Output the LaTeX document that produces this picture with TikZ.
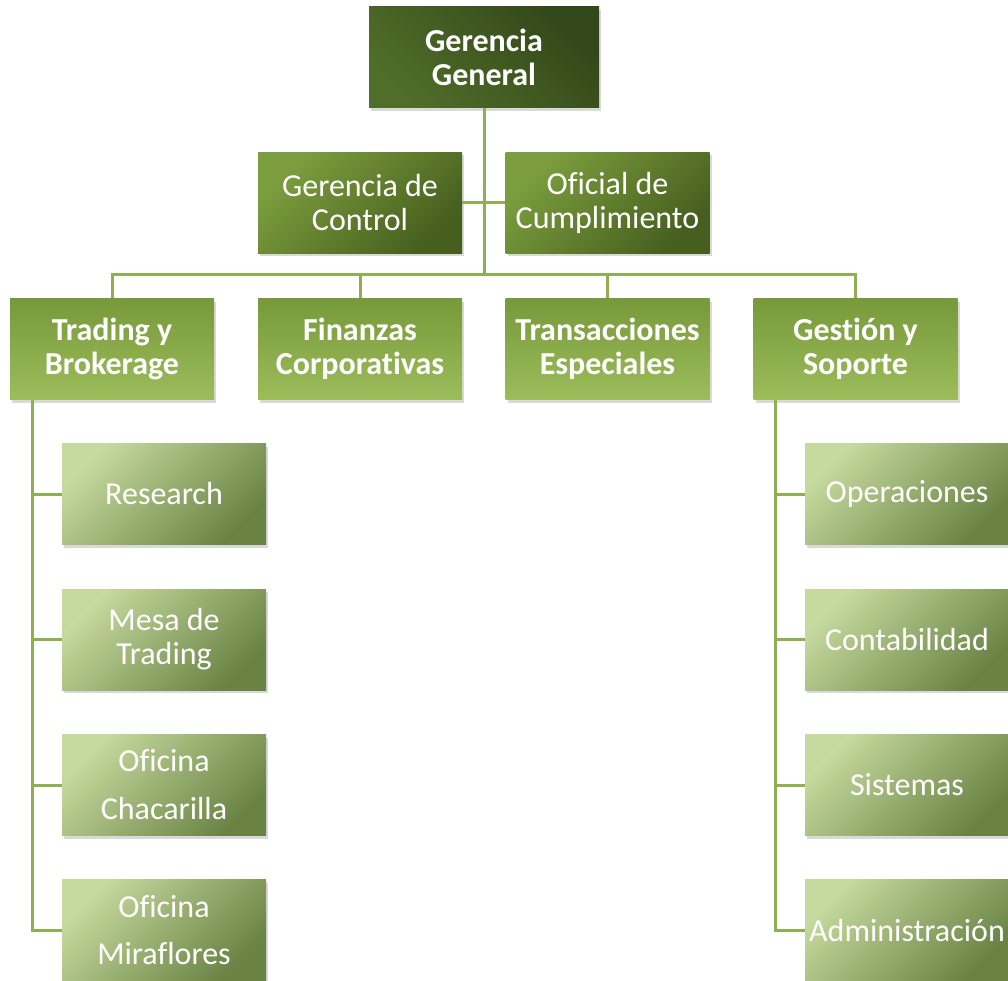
\documentclass[tikz,border=0pt]{standalone}
\usepackage{fontspec}
\setmainfont{Carlito}[Ligatures=CommonOff]
\usetikzlibrary{shadows}
\definecolor{ggdark}{HTML}{33481A}
\definecolor{gglight}{HTML}{506D29}
\definecolor{midlight}{HTML}{7C9E3E}
\definecolor{middark}{HTML}{465E1E}
\definecolor{areatop}{HTML}{77993A}
\definecolor{areabot}{HTML}{9DBD5B}
\definecolor{sublight}{HTML}{C6D99E}
\definecolor{subdark}{HTML}{6A8344}
\definecolor{linkgreen}{HTML}{8DB050}
\begin{document}
\begin{tikzpicture}[x=1pt,y=-1pt,
	box/.style={minimum width=204pt, minimum height=101pt, align=center, text=white,
		font=\fontsize{32}{34}\selectfont,
		drop shadow={shadow xshift=2pt, shadow yshift=-3pt, opacity=0.3}},
	topbox/.style={box, minimum width=230pt, font=\fontsize{32}{34}\selectfont\bfseries,
		shading=axis, left color=gglight, right color=ggdark, shading angle=135},
	staffbox/.style={box, shading=axis, left color=midlight, right color=middark, shading angle=45},
	areabox/.style={box, font=\fontsize{32}{34}\selectfont\bfseries, top color=areatop, bottom color=areabot},
	subbox/.style={box, shading=axis, left color=sublight, right color=subdark, shading angle=45},
	link/.style={draw=linkgreen, line width=3pt}]
	\clip (0,0) rectangle (1008,981);
	\useasboundingbox (0,0) rectangle (1008,981);

	\coordinate (bus) at (484,275);
	\coordinate (tspine) at (32,400);
	\coordinate (gspine) at (775,400);

	\node[topbox] (gg) at (484,57.5) {Gerencia\\General};

	\node[staffbox] (ctrl) at (360,203) {Gerencia de\\Control};
	\node[staffbox] (ofi) at (607.5,203) {Oficial de\\Cumplimiento};

	\node[areabox] (trad) at (112,349) {Trading y\\Brokerage};
	\node[areabox] (fin) at (360,349) {Finanzas\\Corporativas};
	\node[areabox] (trans) at (607.5,349) {Transacciones\\Especiales};
	\node[areabox] (gest) at (855.5,349) {Gestión y\\Soporte};

	\node[subbox] (res) at (164,494) {Research};
	\node[subbox] (mesa) at (164,639.5) {Mesa de\\Trading};
	\node[subbox] (chac) at (164,785) {Oficina\\[14pt]Chacarilla};
	\node[subbox] (mira) at (164,930) {Oficina\\[13pt]Miraflores};

	\node[subbox] (ope) at (907,494) {Operaciones};
	\node[subbox] (cont) at (907,639.5) {Contabilidad};
	\node[subbox] (sis) at (907,785) {Sistemas};
	\node[subbox] (adm) at (907,930) {Administración};

	% connectors
	\draw[link] (gg.south) -- (bus);
	\draw[link] (ctrl.east) -- (ofi.west);
	\foreach \a in {trad,fin,trans,gest}
		\draw[link] (\a.north) |- (bus);
	\foreach \c in {res,mesa,chac,mira}
		\draw[link] (tspine) |- (\c.west);
	\foreach \c in {ope,cont,sis,adm}
		\draw[link] (gspine) |- (\c.west);
\end{tikzpicture}
\end{document}
